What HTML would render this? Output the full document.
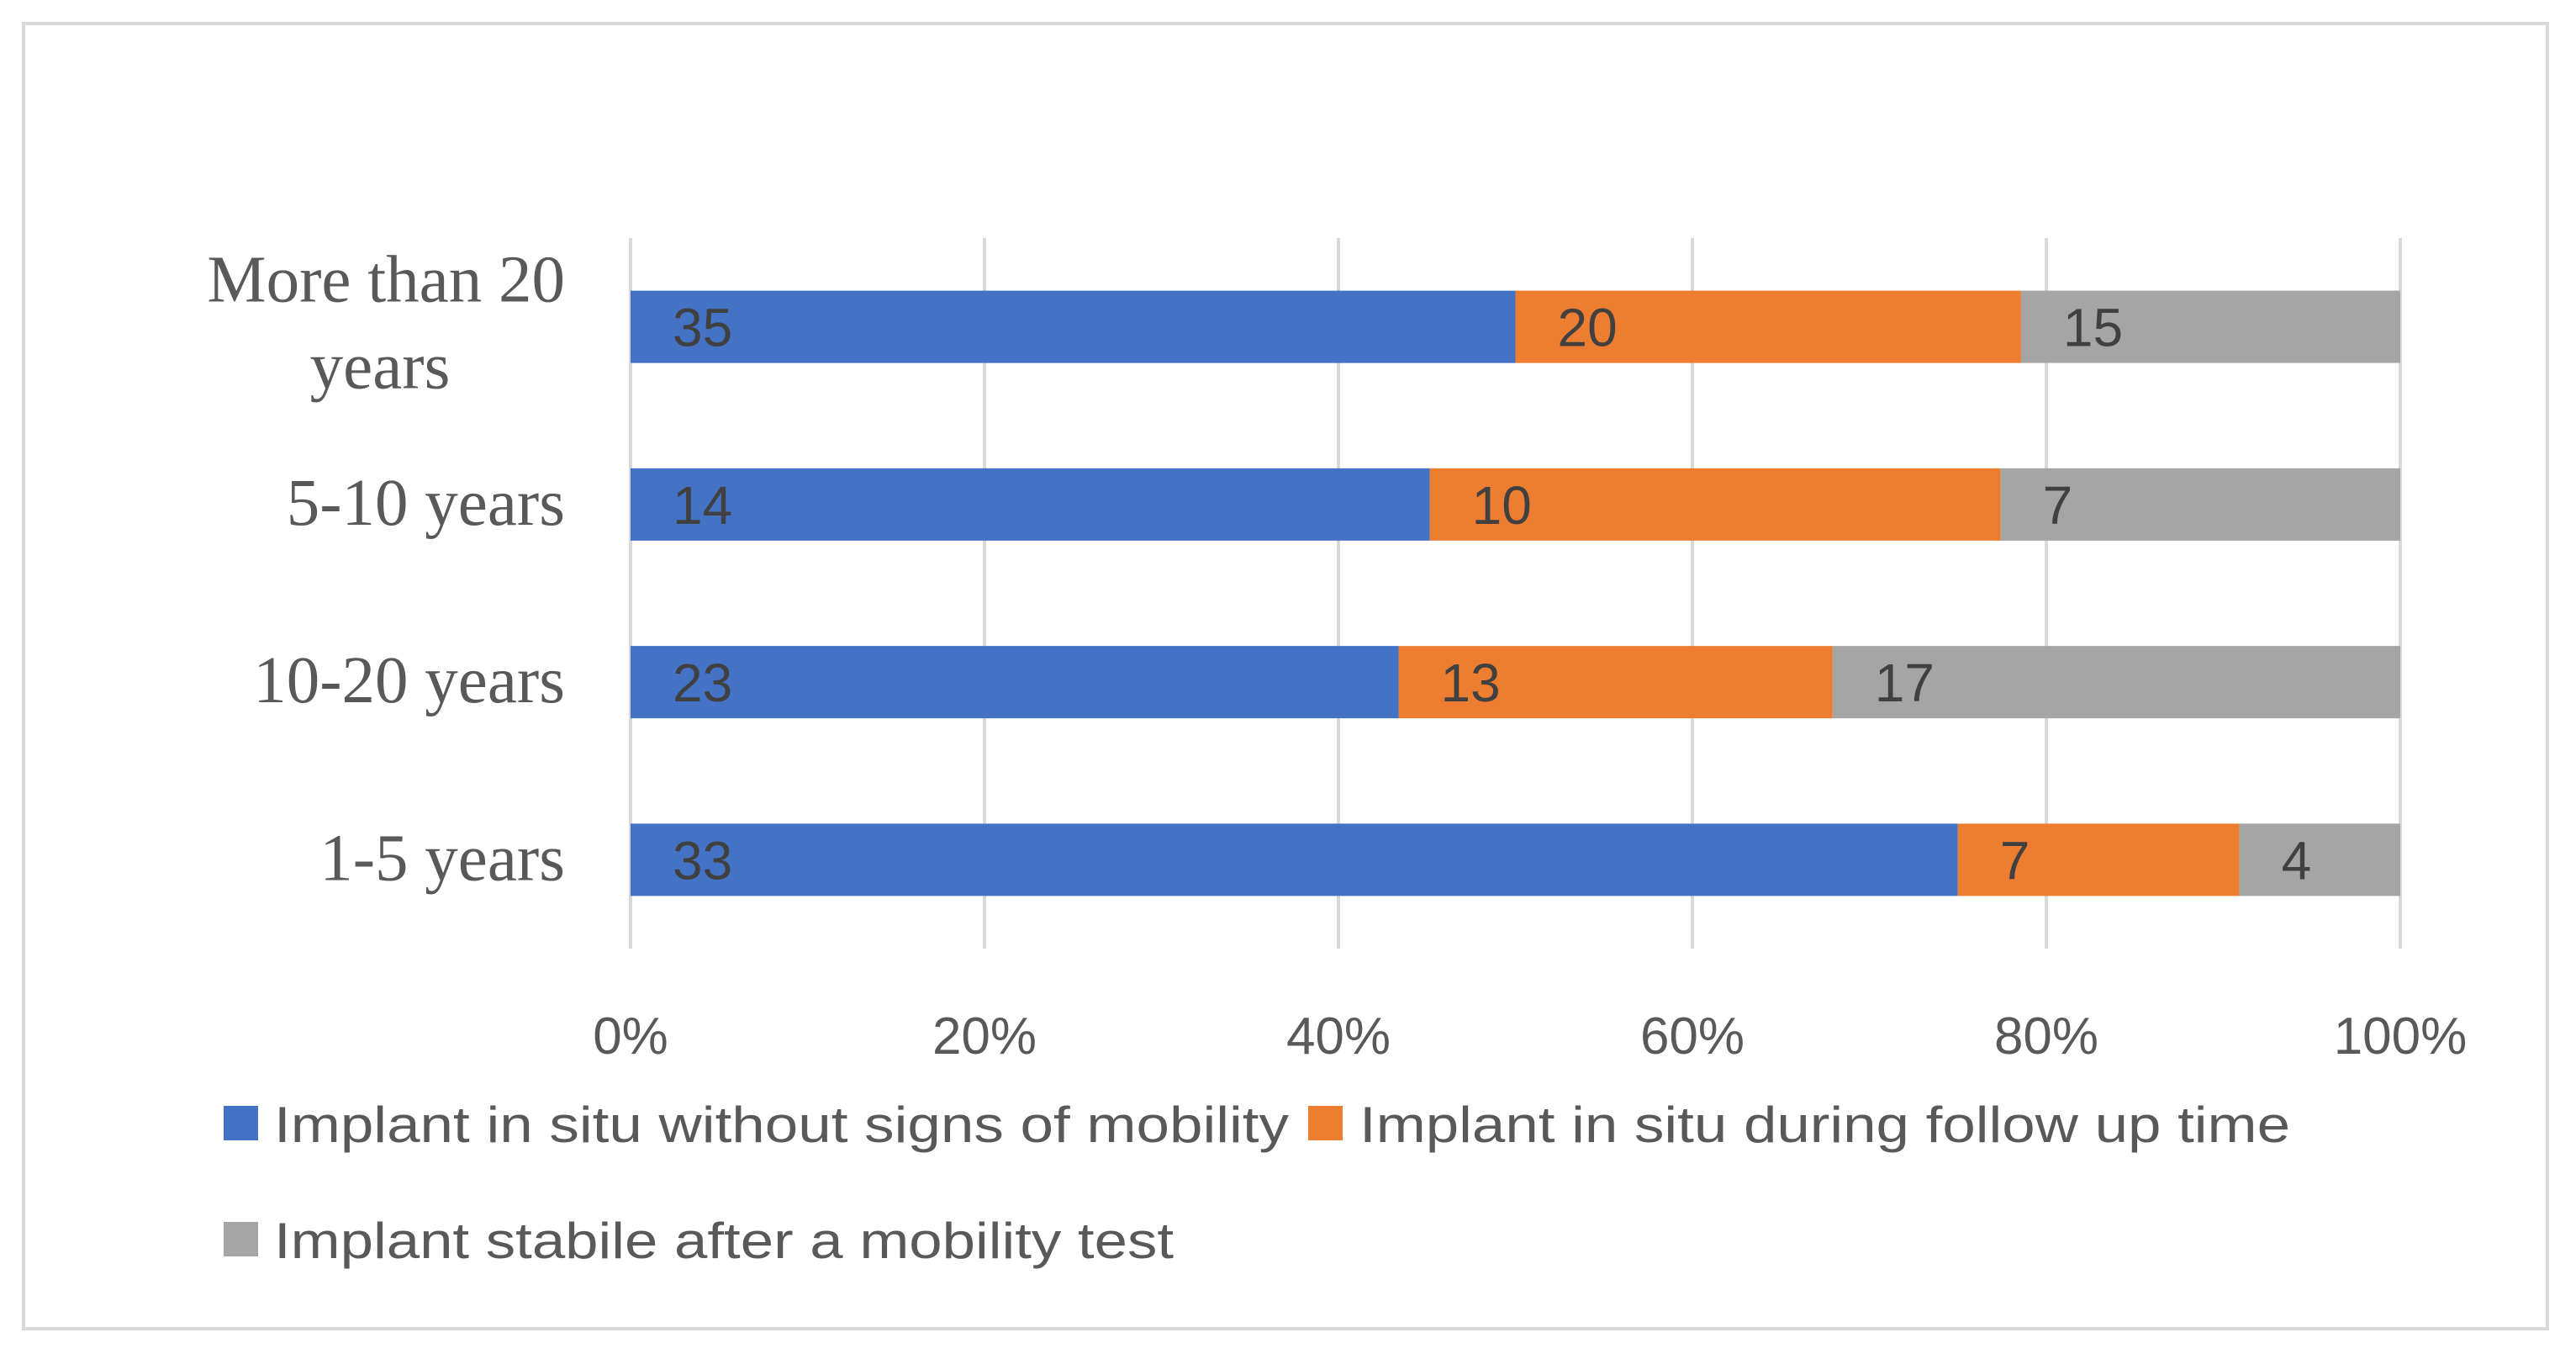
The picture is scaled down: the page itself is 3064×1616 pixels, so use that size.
<!DOCTYPE html>
<html><head><meta charset="utf-8"><style>
html,body{margin:0;padding:0;background:#fff;}
svg{display:block;}
</style></head><body>
<svg id="chart" width="3064" height="1616" viewBox="0 0 3064 1616" xmlns="http://www.w3.org/2000/svg">
<rect x="28" y="28" width="3002" height="1552" fill="#fff" stroke="#d9d9d9" stroke-width="4"/>
<g id="grid"></g>
<g id="bars"></g>
<g id="labels"></g>
<g id="legend">
  <rect x="266" y="1315" width="41" height="41" fill="#4472c4"/>
  <text x="326" y="1358" font-family="Liberation Sans, sans-serif" font-size="60" fill="#595959" textLength="1207" lengthAdjust="spacingAndGlyphs">Implant in situ without signs of mobility</text>
  <rect x="1556" y="1315" width="41" height="41" fill="#ed7d31"/>
  <text x="1617" y="1358" font-family="Liberation Sans, sans-serif" font-size="60" fill="#595959" textLength="1107" lengthAdjust="spacingAndGlyphs">Implant in situ during follow up time</text>
  <rect x="266" y="1453" width="41" height="41" fill="#a5a5a5"/>
  <text x="326" y="1496" font-family="Liberation Sans, sans-serif" font-size="60" fill="#595959" textLength="1070" lengthAdjust="spacingAndGlyphs">Implant stabile after a mobility test</text>
</g>
</svg>
<script>
const categories = ["More than 20 years", "5-10 years", "10-20 years", "1-5 years"];
const seriesNoMobility = [35, 14, 23, 33];
const seriesFollowUp = [20, 10, 13, 7];
const seriesStable = [15, 7, 17, 4];
const tickLabels = ["0%", "20%", "40%", "60%", "80%", "100%"];
const tickValues = [0, 0.2, 0.4, 0.6, 0.8, 1];

const NS = "http://www.w3.org/2000/svg";
const X0 = 750, X1 = 2855, YTOP = 283, YBOT = 1128;
const rowPitch = (YBOT - YTOP) / categories.length;
const barH = 86;
function xScale(f) { return X0 + f * (X1 - X0); }
function yCenter(i) { return YTOP + rowPitch * (i + 0.5); }
function mk(tag, attrs, parent) {
  const e = document.createElementNS(NS, tag);
  for (const k in attrs) e.setAttribute(k, attrs[k]);
  parent.appendChild(e);
  return e;
}
const grid = document.getElementById('grid');
const bars = document.getElementById('bars');
const labels = document.getElementById('labels');

tickValues.forEach((t, i) => {
  const x = xScale(t);
  const l = mk('line', {x1: x, x2: x, y1: YTOP, y2: YBOT, stroke: '#d9d9d9', 'stroke-width': 4}, grid);
  
  
  const tx = mk('text', {x: x, y: 1253, 'text-anchor': 'middle', 'font-family': 'Liberation Sans, sans-serif', 'font-size': 62, fill: '#595959'}, labels);
  tx.textContent = tickLabels[i];
  
  
});

const series = [seriesNoMobility, seriesFollowUp, seriesStable];
const colors = ['#4472c4', '#ed7d31', '#a5a5a5'];
const sNames = ['no-mobility', 'follow-up', 'stable'];
categories.forEach((cat, i) => {
  const total = series.reduce((s, a) => s + a[i], 0);
  let acc = 0;
  const cy = yCenter(i);
  series.forEach((arr, s) => {
    const xa = xScale(acc / total), xb = xScale((acc + arr[i]) / total);
    const r = mk('rect', {x: xa, y: cy - barH / 2, width: xb - xa, height: barH, fill: colors[s]}, bars);
    
    
    const t = mk('text', {x: xa + 50, y: cy + 23, 'font-family': 'Liberation Sans, sans-serif', 'font-size': 64, fill: '#404040'}, labels);
    t.textContent = arr[i];
    
    
    acc += arr[i];
  });
  const words = cat === "More than 20 years" ? ["More than 20", "years"] : [cat];
  if (words.length === 2) {
    const a = mk('text', {x: 672, y: cy - 30, 'text-anchor': 'end', 'font-family': 'Liberation Serif, serif', 'font-size': 79, fill: '#595959'}, labels);
    a.textContent = words[0];
    
    
    const b = mk('text', {x: 452, y: cy + 73, 'text-anchor': 'middle', 'font-family': 'Liberation Serif, serif', 'font-size': 79, fill: '#595959'}, labels);
    b.textContent = words[1];
    
    
  } else {
    const a = mk('text', {x: 672, y: cy + 24, 'text-anchor': 'end', 'font-family': 'Liberation Serif, serif', 'font-size': 79, fill: '#595959'}, labels);
    a.textContent = words[0];
    
    
  }
});
</script>
</body></html>
